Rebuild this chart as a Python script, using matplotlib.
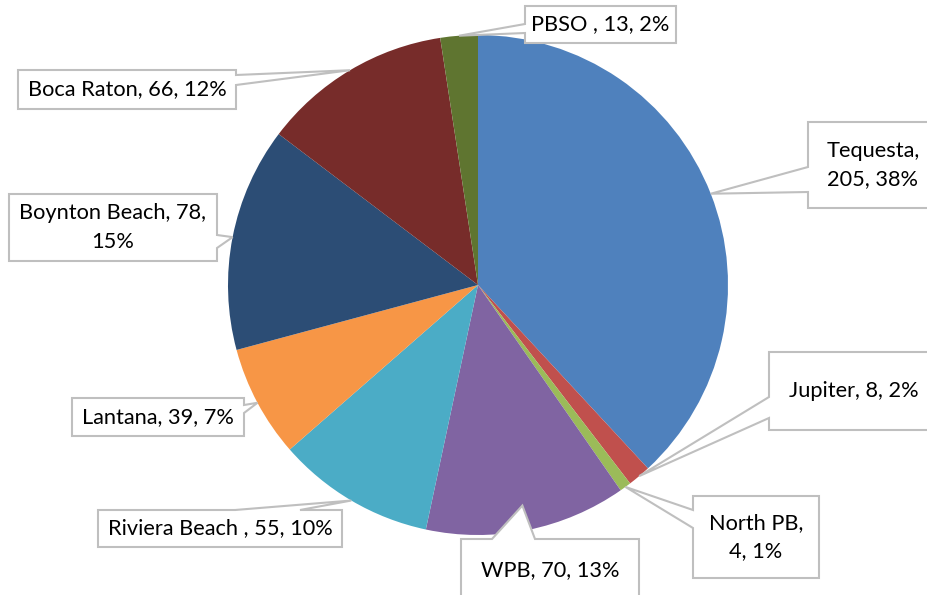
import numpy as np
import matplotlib
matplotlib.use('Agg')
import matplotlib.pyplot as plt
from matplotlib.patches import Polygon

# Datos del gráfico
labels = ['Tequesta', 'Jupiter', 'North PB', 'WPB', 'Riviera Beach ', 'Lantana',
          'Boynton Beach', 'Boca Raton', 'PBSO ']
values = [205, 8, 4, 70, 55, 39, 78, 66, 13]
colors = ['#4F81BD', '#C0504D', '#9BBB59', '#8064A2', '#4BACC6', '#F79646',
          '#2C4D75', '#772C2A', '#5F7530']
label_texts = ['Tequesta,\n205, 38%', 'Jupiter, 8, 2%', 'North PB,\n4, 1%',
               'WPB, 70, 13%', 'Riviera Beach , 55, 10%', 'Lantana, 39, 7%',
               'Boynton Beach, 78,\n15%', 'Boca Raton, 66, 12%', 'PBSO , 13, 2%']

# Dimensiones en pixeles (y hacia abajo)
W, H = 927, 595
CX, CY, R = 478, 285, 250

# Cajas de las etiquetas: (x0, y0, x1, y1), lado del pico, base del pico, factor radial
boxes = [
    ((808, 122, 940, 208), 'left', (167, 192), 1.0),
    ((769, 352, 940, 430), 'left', (397, 418), 1.0),
    ((693, 496, 819, 578), 'left', (510, 528), 1.0),
    ((461, 539, 639, 610), 'top', (492, 535), 0.9),
    ((98, 510, 342, 547), 'top', (235, 300), 1.0),
    ((72, 398, 244, 436), 'right', (405, 413), 1.0),
    ((9, 194, 217, 261), 'right', (235, 248), 1.0),
    ((18, 70, 236, 109), 'right', (75, 85), 1.0),
    ((525, 6, 676, 43), 'left', (24, 33), 1.0),
]

GRAY = '#BFBFBF'
plt.rcParams['font.family'] = ['Lato', 'DejaVu Sans']

fig = plt.figure(figsize=(W / 100, H / 100), dpi=100)
ax = fig.add_axes([0, 0, 1, 1])

wedges, _ = ax.pie(values, colors=colors, startangle=90, counterclock=False,
                   center=(CX, H - CY), radius=R,
                   wedgeprops=dict(linewidth=0))

ax.set_xlim(0, W)
ax.set_ylim(0, H)
ax.set_aspect('equal')
ax.axis('off')


def callout(box, side, base, tip):
    x0, y0, x1, y1 = box
    a, b = base
    if side == 'left':
        pts = [(x0, y0), (x1, y0), (x1, y1), (x0, y1), (x0, b), tip, (x0, a)]
    elif side == 'right':
        pts = [(x0, y0), (x1, y0), (x1, a), tip, (x1, b), (x1, y1), (x0, y1)]
    else:  # top
        pts = [(x0, y0), (a, y0), tip, (b, y0), (x1, y0), (x1, y1), (x0, y1)]
    return [(px, H - py) for px, py in pts]


for w, txt, (box, side, base, f) in zip(wedges, label_texts, boxes):
    mid = np.deg2rad((w.theta1 + w.theta2) / 2)
    tip = (CX + f * R * np.cos(mid), CY - f * R * np.sin(mid))
    poly = Polygon(callout(box, side, base, tip), closed=True, facecolor='white',
                   edgecolor=GRAY, linewidth=1.5, zorder=3)
    ax.add_patch(poly)
    x0, y0, x1, y1 = box
    ty = (y0 + y1) / 2 if y1 <= H else 570
    ax.text((x0 + min(x1, 938)) / 2, H - ty, txt, ha='center', va='center',
            fontsize=15.7, color='black', linespacing=1.55, zorder=4)

fig.savefig('out.png', dpi=100)
